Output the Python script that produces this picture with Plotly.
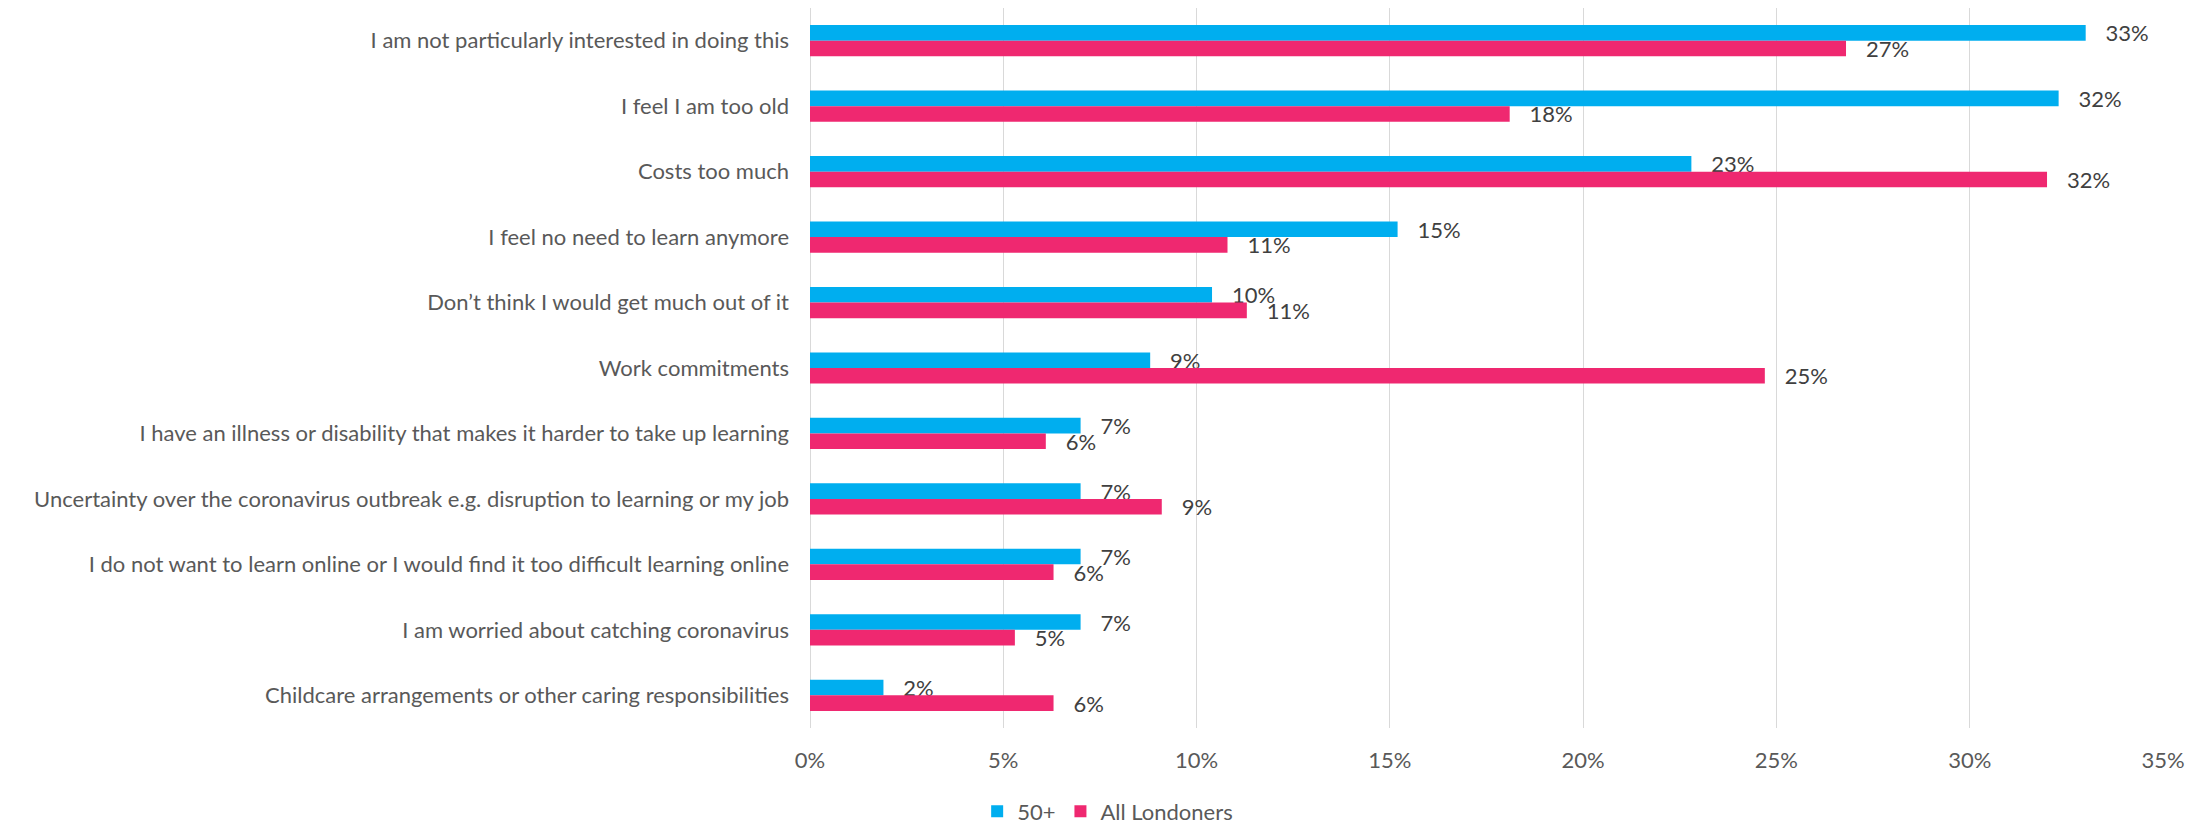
import plotly.graph_objects as go

categories = [
    "I am not particularly interested in doing this",
    "I feel I am too old",
    "Costs too much",
    "I feel no need to learn anymore",
    "Don\u2019t think I would get much out of it",
    "Work commitments",
    "I have an illness or disability that makes it harder to take up learning",
    "Uncertainty over the coronavirus outbreak e.g. disruption to learning or my job",
    "I do not want to learn online or I would find it too difficult learning online",
    "I am worried about catching coronavirus",
    "Childcare arrangements or other caring responsibilities",
]

over_50 = [33.0, 32.3, 22.8, 15.2, 10.4, 8.8, 7.0, 7.0, 7.0, 7.0, 1.9]
all_londoners = [26.8, 18.1, 32.0, 10.8, 11.3, 24.7, 6.1, 9.1, 6.3, 5.3, 6.3]

series_names = ["50+", "All Londoners"]
series_colors = ["#00AEEF", "#EF2870"]

x_ticks = [0, 5, 10, 15, 20, 25, 30, 35]
x_tick_labels = ["0%", "5%", "10%", "15%", "20%", "25%", "30%", "35%"]

FONT = "Lato"
LABEL_COLOR = "#404040"
TICK_COLOR = "#595959"
FS = 22

fig = go.Figure()
for name, vals, col in zip(series_names, [over_50, all_londoners], series_colors):
    fig.add_trace(go.Bar(
        y=categories,
        x=vals,
        name=name,
        orientation="h",
        marker=dict(color=col, line=dict(width=0)),
        texttemplate="\u00a0\u00a0\u00a0%{x:.0f}%",
        textposition="outside",
        constraintext="none",
        cliponaxis=False,
        textfont=dict(family=FONT, size=FS, color=LABEL_COLOR),
        hoverinfo="skip",
    ))

W, H = 2201, 825
ml, mr, mt, mb = 802, 46, 0, 102

fig.update_layout(
    width=W,
    height=H,
    margin=dict(l=ml, r=mr, t=mt, b=mb, pad=0),
    paper_bgcolor="white",
    plot_bgcolor="white",
    barmode="group",
    bargap=0.523,
    bargroupgap=0,
    font=dict(family=FONT, size=FS, color=TICK_COLOR),
    showlegend=True,
    legend=dict(
        orientation="h",
        x=0.22,
        xanchor="center",
        y=-0.116,
        yanchor="middle",
        font=dict(family=FONT, size=FS, color=TICK_COLOR),
        itemwidth=30,
        traceorder="normal",
    ),
    xaxis=dict(
        range=[0, 35],
        tickmode="array",
        tickvals=x_ticks,
        ticktext=x_tick_labels,
        showgrid=True,
        gridcolor="#D9D9D9",
        gridwidth=1.3,
        zeroline=True,
        zerolinecolor="#D9D9D9",
        zerolinewidth=1.3,
        showline=False,
        ticks="",
        ticklabelstandoff=17,
        tickfont=dict(family=FONT, size=FS, color=TICK_COLOR),
        fixedrange=True,
    ),
    yaxis=dict(
        categoryorder="array",
        categoryarray=categories,
        autorange="reversed",
        showgrid=False,
        zeroline=False,
        showline=False,
        ticks="",
        ticklabelstandoff=20,
        tickfont=dict(family=FONT, size=FS, color=TICK_COLOR),
        fixedrange=True,
    ),
)

fig.write_html("out.html")
